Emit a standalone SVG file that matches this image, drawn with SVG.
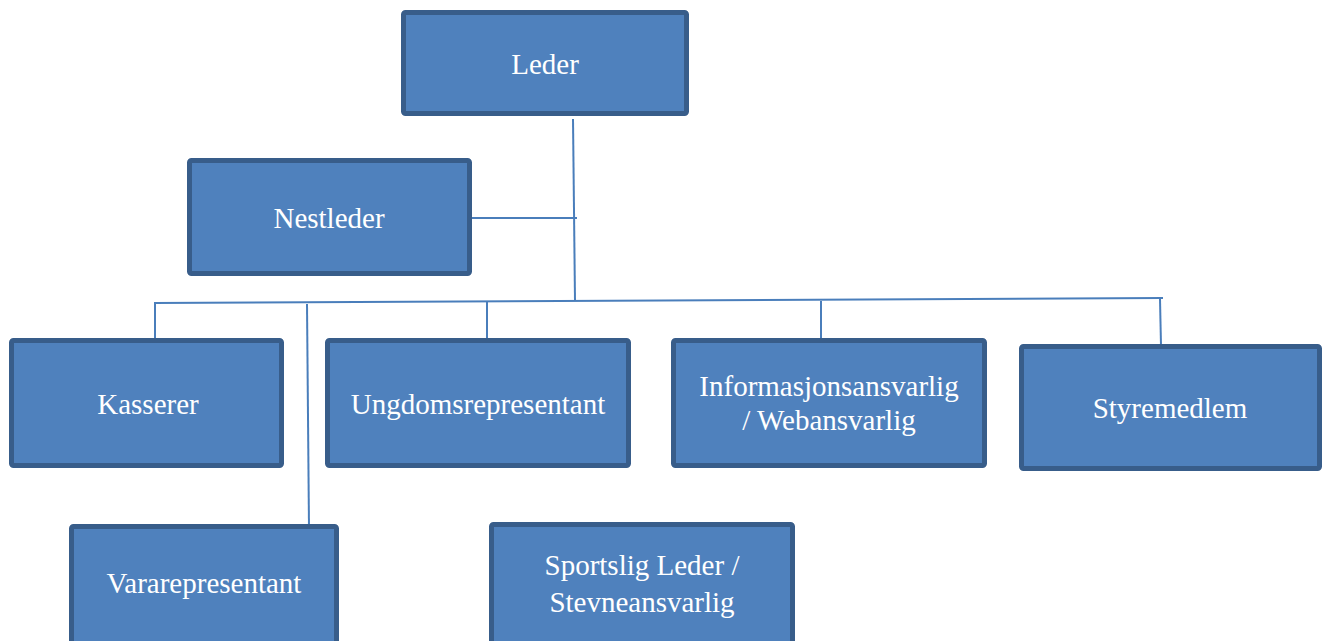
<svg xmlns="http://www.w3.org/2000/svg" width="1325" height="641" viewBox="0 0 1325 641">
<style>
.box{fill:#4F81BD;stroke:#385D8A;stroke-width:5}
.t{font-family:"Liberation Serif","Times New Roman",serif;font-size:29px;fill:#ffffff;text-anchor:middle}
.c{stroke:#4A7EBB;stroke-width:2;fill:none}
</style>
<rect width="1325" height="641" fill="#ffffff"/>
<g id="connectors">
<line class="c" x1="573" y1="119" x2="575" y2="301"/>
<line class="c" x1="472" y1="218" x2="577" y2="218"/>
<line class="c" x1="154" y1="303" x2="1163" y2="298"/>
<line class="c" x1="155" y1="303" x2="155" y2="338"/>
<line class="c" x1="487" y1="302" x2="487" y2="340"/>
<line class="c" x1="821" y1="301" x2="821" y2="342"/>
<line class="c" x1="1160" y1="299" x2="1161" y2="346"/>
<line class="c" x1="307" y1="304" x2="309" y2="528"/>
</g>
<g id="leder"><rect class="box" x="403.5" y="12.5" width="283" height="101" rx="2"/><text class="t" x="545" y="74">Leder</text></g>
<g id="nestleder"><rect class="box" x="189.5" y="160.5" width="280" height="113" rx="2"/><text class="t" x="329" y="228">Nestleder</text></g>
<g id="kasserer"><rect class="box" x="11.5" y="340.5" width="270" height="125" rx="2"/><text class="t" x="148" y="414">Kasserer</text></g>
<g id="ungdomsrepresentant"><rect class="box" x="327.5" y="340.5" width="301" height="125" rx="2"/><text class="t" x="478" y="414">Ungdomsrepresentant</text></g>
<g id="informasjonsansvarlig"><rect class="box" x="673.5" y="340.5" width="311" height="125" rx="2"/><text class="t" x="829" y="396">Informasjonsansvarlig</text><text class="t" x="829" y="430">/ Webansvarlig</text></g>
<g id="styremedlem"><rect class="box" x="1021.5" y="346.5" width="298" height="122" rx="2"/><text class="t" x="1170" y="418">Styremedlem</text></g>
<g id="vararepresentant"><rect class="box" x="71.5" y="526.5" width="265" height="120" rx="2"/><text class="t" x="204" y="593">Vararepresentant</text></g>
<g id="sportslig"><rect class="box" x="491.5" y="524.5" width="301" height="122" rx="2"/><text class="t" x="642" y="575">Sportslig Leder /</text><text class="t" x="642" y="612">Stevneansvarlig</text></g>
</svg>
